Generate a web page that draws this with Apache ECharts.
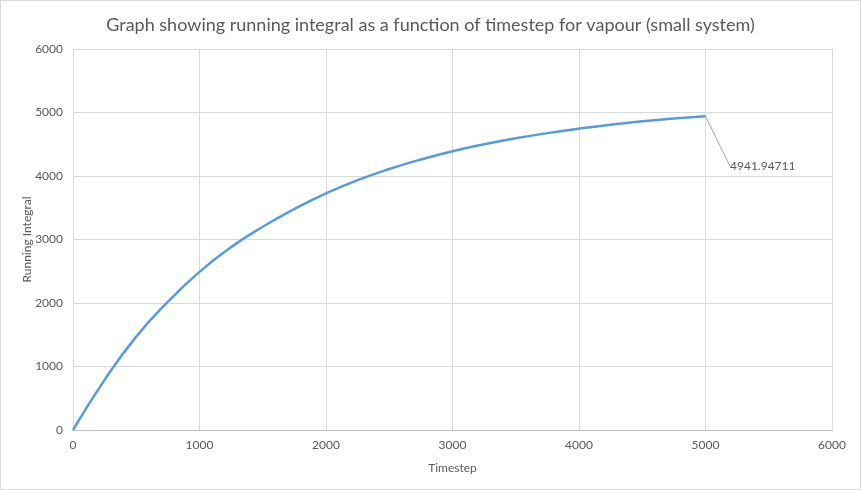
<!DOCTYPE html>
<html>
<head>
<meta charset="utf-8">
<script src="https://cdn.jsdelivr.net/npm/echarts@6/dist/echarts.min.js"></script>
<style>
  html, body { margin: 0; padding: 0; background: #fff; }
  #main { width: 859px; height: 488px; border: 1px solid #d9d9d9; }
</style>
</head>
<body>
<div id="main"></div>
<script>
// values
var timesteps = [0, 250, 500, 750, 1000, 1250, 1500, 1750, 2000, 2250, 2500,
                 2750, 3000, 3250, 3500, 3750, 4000, 4250, 4500, 4750, 5000];
var runningIntegral = [0, 790, 1470, 2020, 2490, 2880, 3200, 3480, 3725, 3935, 4110,
                       4260, 4390, 4500, 4595, 4675, 4745, 4808, 4862, 4905, 4941.94711];
var xTicks = [0, 6000, 1000];   // min, max, interval
var yTicks = [0, 6000, 1000];

var textColor = '#595959';
var fontName = 'Lato';

var seriesData = timesteps.map(function (t, i) {
    var item = { value: [t, runningIntegral[i]] };
    if (i === timesteps.length - 1) {
        item.symbol = 'circle';
        item.symbolSize = 1;
        item.label = {
            show: true,
            position: 'right',
            distance: 5,
            formatter: function (p) { return String(p.value[1]); }
        };
    }
    return item;
});

function plain(v) { return String(v); }

var chart = echarts.init(document.getElementById('main'));

var option = {
    animation: false,
    textStyle: { fontFamily: fontName },
    title: {
        text: 'Graph showing running integral as a function of timestep for vapour (small system)',
        left: 'center',
        top: 10,
        textStyle: { color: textColor, fontSize: 18, fontWeight: 'normal', fontFamily: fontName }
    },
    grid: { left: 72, right: 28, top: 48, bottom: 59 },
    xAxis: {
        type: 'value',
        min: xTicks[0], max: xTicks[1], interval: xTicks[2],
        name: 'Timestep',
        nameLocation: 'middle',
        nameGap: 32,
        nameMoveOverlap: false,
        nameTextStyle: { color: textColor, fontSize: 12 },
        axisLine: { lineStyle: { color: '#bfbfbf', width: 1 } },
        axisTick: { show: false },
        axisLabel: { color: textColor, fontSize: 12, margin: 9, formatter: plain },
        splitLine: { show: true, lineStyle: { color: '#d9d9d9' } }
    },
    yAxis: {
        type: 'value',
        min: yTicks[0], max: yTicks[1], interval: yTicks[2],
        name: 'Running Integral',
        nameLocation: 'middle',
        nameGap: 40,
        nameMoveOverlap: false,
        nameTextStyle: { color: textColor, fontSize: 12 },
        axisLine: { show: false },
        axisTick: { show: false },
        axisLabel: { color: textColor, fontSize: 12, margin: 10, formatter: plain },
        splitLine: { show: true, lineStyle: { color: '#d9d9d9' } }
    },
    series: [{
        type: 'line',
        data: seriesData,
        smooth: true,
        symbol: 'none',
        showSymbol: true,
        lineStyle: { color: '#5b9bd5', width: 2.5 },
        itemStyle: { color: '#5b9bd5' },
        label: { color: textColor, fontSize: 12 },
        labelLine: { show: true, lineStyle: { color: '#a6a6a6', width: 1 } },
        labelLayout: function (params) {
            if (params.dataIndex === timesteps.length - 1) {
                return { dx: 19, dy: 50 };
            }
            return {};
        }
    }]
};

chart.setOption(option);
</script>
</body>
</html>
